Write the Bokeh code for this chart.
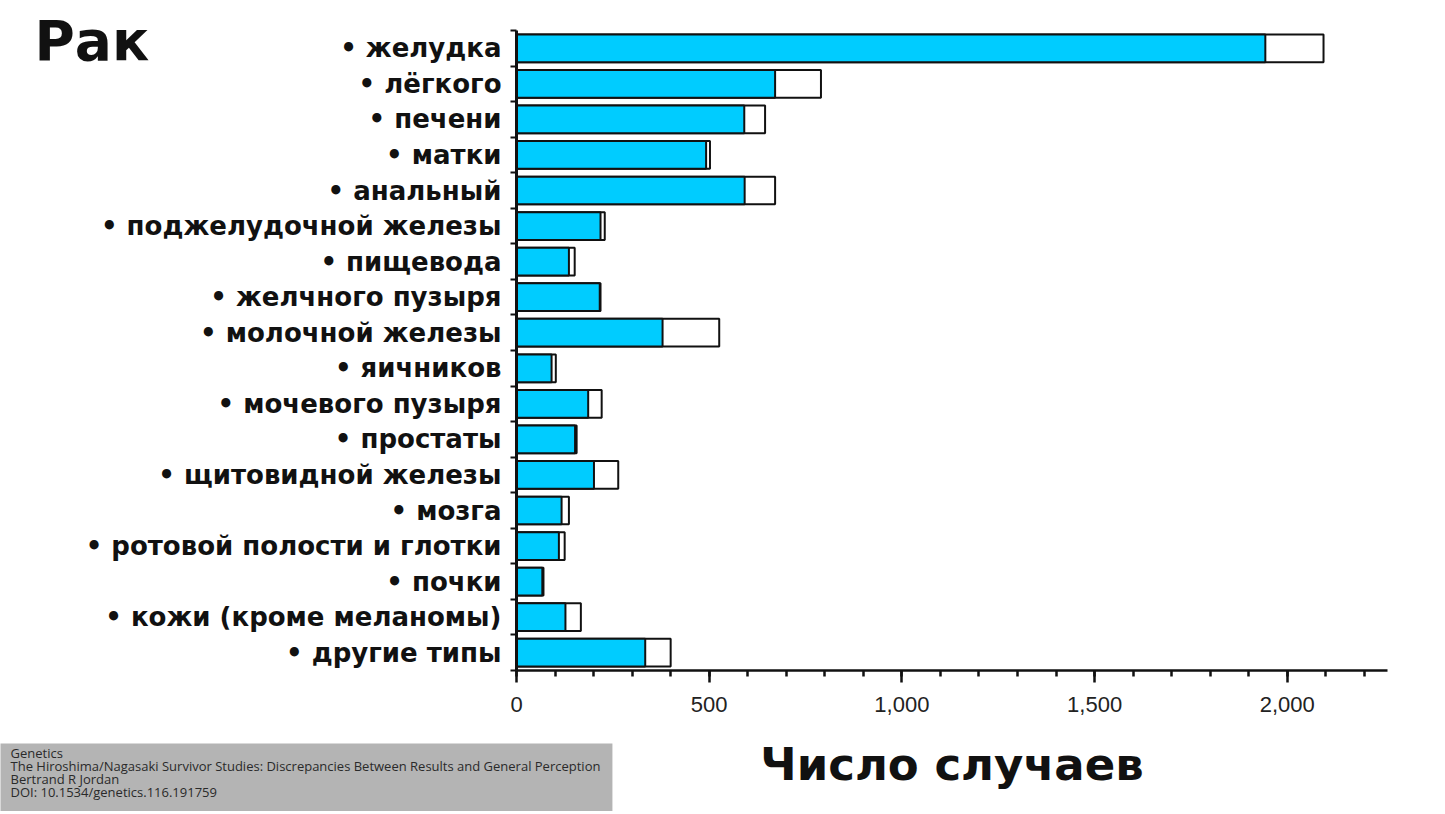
from bokeh.plotting import figure
from bokeh.models import (Range1d, FixedTicker, SingleIntervalTicker, NumeralTickFormatter, Title,
                          ColumnDataSource)
from bokeh.embed import file_html
from bokeh.resources import INLINE

# ---- data ----
categories = ["• желудка", "• лёгкого", "• печени", "• матки", "• анальный",
              "• поджелудочной железы", "• пищевода", "• желчного пузыря",
              "• молочной железы", "• яичников", "• мочевого пузыря", "• простаты",
              "• щитовидной железы", "• мозга", "• ротовой полости и глотки",
              "• почки", "• кожи (кроме меланомы)", "• другие типы"]
observed = [1943, 671, 591, 492, 592, 218, 136, 216, 379, 91, 186, 152, 201, 117, 110, 67, 127, 334]
total = [2094, 790, 645, 502, 671, 229, 151, 218, 526, 102, 221, 156, 264, 136, 125, 70, 167, 400]

title_text = "Рак"
x_title = "Число случаев"
citation_lines = ["Genetics",
                  "The Hiroshima/Nagasaki Survivor Studies: Discrepancies Between Results and General Perception",
                  "Bertrand R Jordan",
                  "DOI: 10.1534/genetics.116.191759"]

n = len(categories)
ypos = [n - i - 0.5 for i in range(n)]

src = ColumnDataSource(dict(y=ypos, obs=observed, tot=total, zero=[0] * n))

W, H = 1445, 814
p = figure(width=W, height=H, output_backend="svg", toolbar_location=None,
           x_range=Range1d(0, 2260), y_range=Range1d(0, n),
           min_border_left=516, min_border_right=58, min_border_top=30, min_border_bottom=144)
p.outline_line_color = None
p.grid.visible = False
p.background_fill_color = "white"

p.hbar(y="y", left="zero", right="tot", height=0.78, source=src,
       fill_color="white", line_color="#111111", line_width=2)
p.hbar(y="y", left="zero", right="obs", height=0.78, source=src,
       fill_color="#00CCFF", line_color="#111111", line_width=2)

# x axis
xa = p.xaxis[0]
xa.ticker = SingleIntervalTicker(interval=500, num_minor_ticks=5)
xa.formatter = NumeralTickFormatter(format="0,0")
xa.axis_line_width = 2.5
xa.axis_line_color = "#111111"
xa.major_tick_out = 12
xa.major_tick_in = 0
xa.minor_tick_out = 6
xa.minor_tick_in = 0
xa.major_tick_line_width = 2.5
xa.minor_tick_line_width = 2.5
xa.major_tick_line_color = "#111111"
xa.minor_tick_line_color = "#111111"
xa.major_label_text_font = "Liberation Sans"
xa.major_label_text_font_size = "22px"
xa.major_label_text_color = "#222222"
xa.major_label_standoff = 14
xa.axis_label = x_title
xa.axis_label_text_font = "DejaVu Sans"
xa.axis_label_text_font_style = "bold"
xa.axis_label_text_font_size = "45px"
xa.axis_label_text_color = "#111111"
xa.axis_label_standoff = 23

# y axis
ya = p.yaxis[0]
ya.ticker = FixedTicker(ticks=ypos, minor_ticks=list(range(n + 1)))
ya.major_label_overrides = {yy: c for yy, c in zip(ypos, categories)}
ya.axis_line_width = 3
ya.axis_line_color = "#111111"
ya.major_tick_out = 0
ya.major_tick_in = 0
ya.minor_tick_out = 6
ya.minor_tick_in = 0
ya.minor_tick_line_width = 2
ya.minor_tick_line_color = "#111111"
ya.major_label_text_font = "DejaVu Sans"
ya.major_label_text_font_style = "bold"
ya.major_label_text_font_size = "26px"
ya.major_label_text_color = "#111111"
ya.major_label_standoff = 9


def make_title(**kw):
    props = Title.properties()
    return Title(**{k: v for k, v in kw.items() if k in props})


# big heading, placed in the top panel and pulled down beside the chart
p.add_layout(make_title(text=title_text, align="left", vertical_align="bottom",
                        offset=-482, standoff=-84,
                        text_font="DejaVu Sans", text_font_style="bold", text_font_size="55px",
                        text_color="#111111"), "above")

# citation box, placed in the bottom panel and pulled up beside the axis title
p.add_layout(make_title(text="\n".join(citation_lines), align="left", vertical_align="top",
                        offset=-516, standoff=-100,
                        text_font="Open Sans", text_font_style="normal", text_font_size="13px",
                        text_color="#2a2a2a", text_line_height=0.73,
                        background_fill_color="#b4b4b4",
                        padding=dict(left=10, right=12, top=0, bottom=10)), "below")

open("out.html", "w").write(file_html(p, INLINE))
